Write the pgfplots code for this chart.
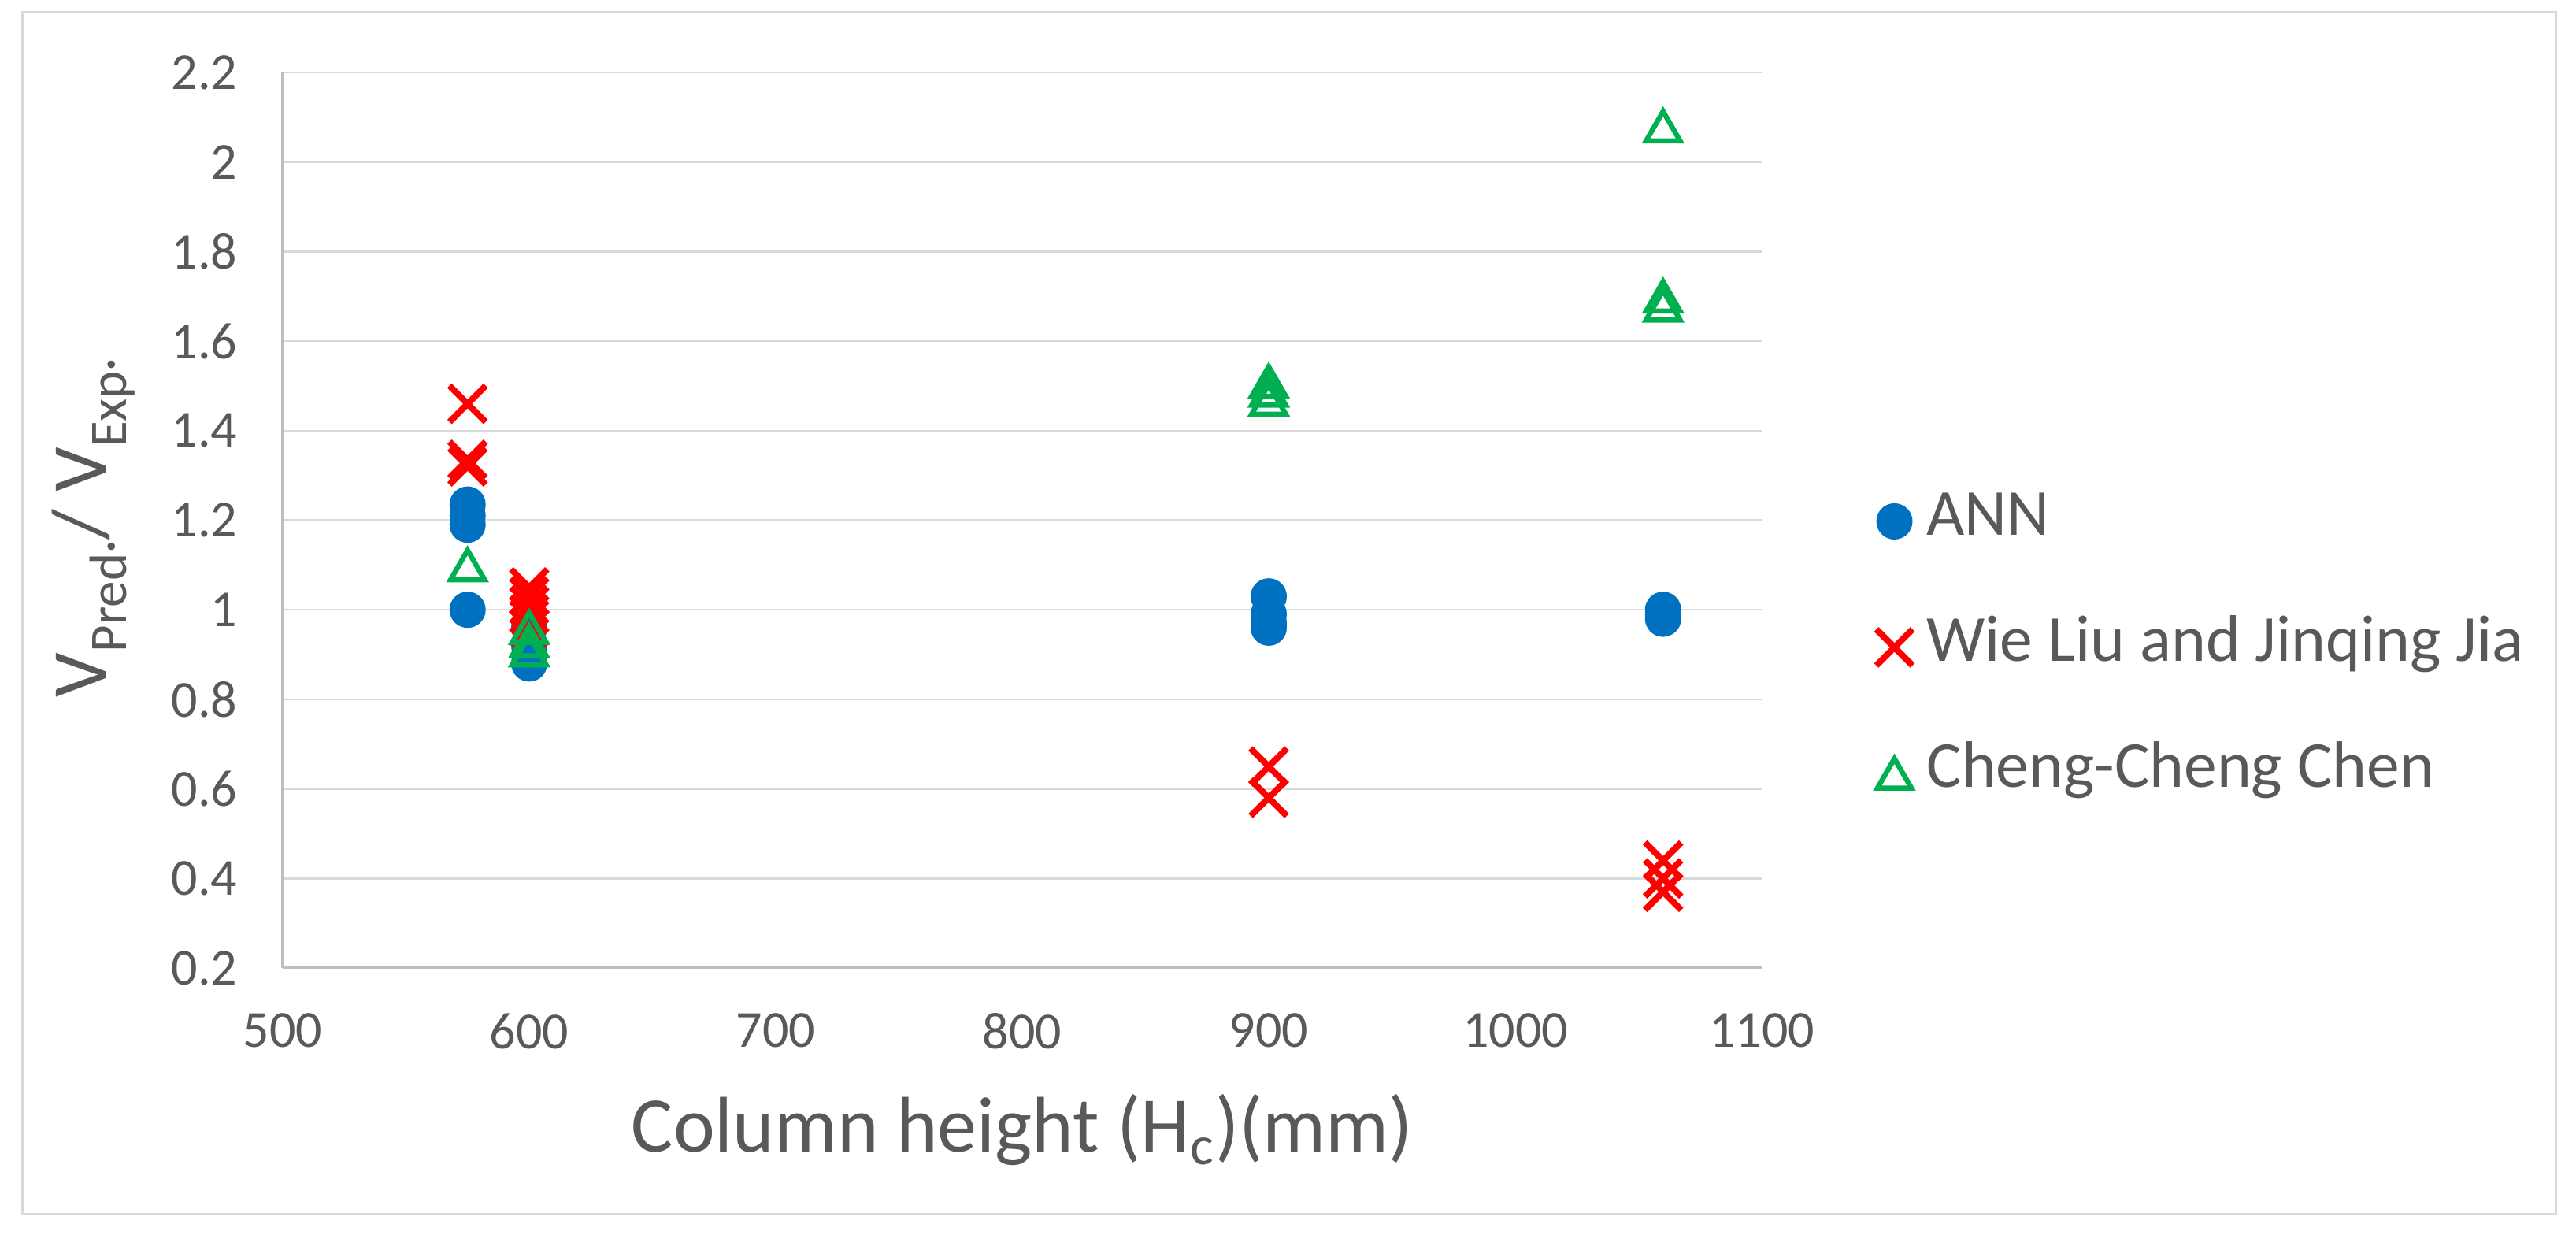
\documentclass[border=0pt]{standalone}
\usepackage{fontspec}
\setmainfont{Carlito}
\usepackage{pgfplots}
\pgfplotsset{compat=1.18}
\definecolor{txt}{HTML}{595959}
\definecolor{gridc}{HTML}{D9D9D9}
\definecolor{axl}{HTML}{BFBFBF}
\definecolor{annblue}{HTML}{0070C0}
\definecolor{wred}{HTML}{FF0000}
\definecolor{cgreen}{HTML}{00B050}
\newcommand{\sub}[1]{\raisebox{-5pt}{\fontsize{13.4}{15}\selectfont #1}}
\begin{document}
\begin{tikzpicture}
\path[use as bounding box] (0pt,0pt) rectangle (654.2pt,313.6pt);
\draw[gridc, line width=0.6pt] (5.6pt,5.2pt) rectangle (649pt,310.5pt);
\begin{axis}[
  at={(71.8pt,67.8pt)}, anchor=south west,
  scale only axis, width=375.6pt, height=227.4pt,
  xmin=500, xmax=1100, ymin=0.2, ymax=2.2,
  xtick={500,600,700,800,900,1000,1100},
  ytick={0.2,0.4,0.6,0.8,1,1.2,1.4,1.6,1.8,2,2.2},
  yticklabels={0.2,0.4,0.6,0.8,1,1.2,1.4,1.6,1.8,2,2.2},
  xticklabels={500,600,700,800,900,1000,1100},
  /pgf/number format/assume math mode=true,
  ymajorgrids, grid style={gridc, line width=0.5pt},
  axis x line*=bottom, axis y line*=left,
  axis line style={axl, line width=0.6pt, -},
  major tick length=0pt,
  tick label style={font=\fontsize{13.2}{15}\selectfont, text=txt},
  yticklabel style={xshift=-8pt},
  xticklabel style={yshift=-8pt},
  xlabel={Column height (H\textsubscript{c})(mm)},
  ylabel={V\sub{Pred·}/ V\sub{Exp·}},
  label style={font=\fontsize{20}{24}\selectfont, text=txt},
  xlabel style={at={(axis description cs:0.5,-0.181)}, anchor=center},
  ylabel style={at={(axis description cs:-0.128,0.492)}, anchor=center},
  legend style={draw=none, fill=none, at={(axis description cs:1.069,0.358)}, anchor=west,
    font=\fontsize{16.7}{19}\selectfont, text=txt, row sep=17pt,
    nodes={inner sep=0pt, text height=11pt, text depth=4pt},
    /tikz/every odd column/.append style={column sep=3.6pt}},
  legend cell align=left,
  legend image code/.code={\draw[#1, mark repeat=2, mark phase=2] plot coordinates {(0pt,0pt) (5pt,0pt) (10pt,0pt)};},
  clip=false,
]
\addplot[only marks, mark=*, mark size=4.4pt, color=annblue] coordinates {
(575,1.00) (575,1.19) (575,1.21) (575,1.235)
(600,0.96) (600,0.92) (600,0.88)
(900,1.03) (900,0.99) (900,0.97) (900,0.96)
(1060,1.00) (1060,0.99) (1060,0.98)
};
\addlegendentry{ANN}
\addplot[only marks, mark=x, mark size=6.5pt, color=wred, line width=1.6pt] coordinates {
(575,1.46) (575,1.335) (575,1.32)
(600,1.05) (600,1.03) (600,1.01) (600,0.99) (600,0.96)
(900,0.65) (900,0.58)
(1060,0.44) (1060,0.40) (1060,0.37)
};
\addlegendentry{Wie Liu and Jinqing Jia}
\addplot[only marks, mark=triangle, mark size=5pt, color=cgreen, line width=1.3pt,
  mark options={yshift=-1.25pt}] coordinates {
(575,1.10)
(600,0.96) (600,0.93) (600,0.91)
(900,1.51) (900,1.49) (900,1.47)
(1060,2.08) (1060,1.70) (1060,1.68)
};
\addlegendentry{Cheng-Cheng Chen}
\end{axis}
\end{tikzpicture}
\end{document}
